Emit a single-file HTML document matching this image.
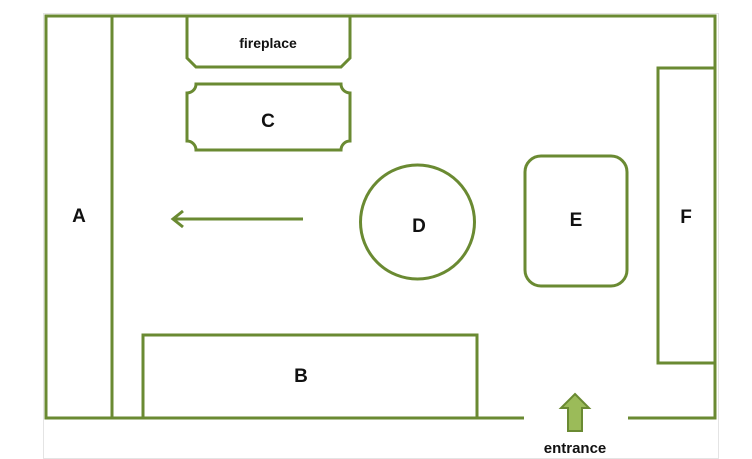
<!DOCTYPE html>
<html><head><style>
html,body{margin:0;padding:0;background:#fff;}
svg{display:block;}
text{font-family:"Liberation Sans",sans-serif;font-weight:bold;fill:#111;}
</style></head><body>
<svg width="752" height="459" viewBox="0 0 752 459" xmlns="http://www.w3.org/2000/svg">
<rect x="43.5" y="13.5" width="675" height="445" fill="none" stroke="#c8c8c8" stroke-width="1" stroke-dasharray="1,1"/>
<g fill="none" stroke="#6a8a32" stroke-width="3">
<polyline points="524,418 46,418 46,16 715,16 715,418 628,418"/>
<line x1="112" y1="16" x2="112" y2="418"/>
<path d="M187,16 V58 L196,67 H341 L350,58 V16"/>
<path d="M196,84 H341 A9,9 0 0 0 350,93 V141 A9,9 0 0 0 341,150 H196 A9,9 0 0 0 187,141 V93 A9,9 0 0 0 196,84 Z"/>
<circle cx="417.5" cy="222" r="57"/>
<rect x="525" y="156" width="102" height="130" rx="16"/>
<polyline points="715,68 658,68 658,363 715,363"/>
<polyline points="143,418 143,335 477,335 477,418"/>
<line x1="174" y1="219" x2="303" y2="219"/>
<polyline points="183,211 173,219 183,227"/>
</g>
<path d="M575,394 L589,408 L582,408 L582,431 L568,431 L568,408 L561,408 Z" fill="#9bbb59" stroke="#6a8a32" stroke-width="2"/>
<text x="268" y="48" font-size="14" text-anchor="middle">fireplace</text>
<text x="268" y="127" font-size="19" text-anchor="middle">C</text>
<text x="79" y="222" font-size="19" text-anchor="middle">A</text>
<text x="419" y="232" font-size="19" text-anchor="middle">D</text>
<text x="576" y="226" font-size="19" text-anchor="middle">E</text>
<text x="686" y="223" font-size="19" text-anchor="middle">F</text>
<text x="301" y="382" font-size="19" text-anchor="middle">B</text>
<text x="575" y="453" font-size="15" text-anchor="middle">entrance</text>
</svg>
</body></html>
